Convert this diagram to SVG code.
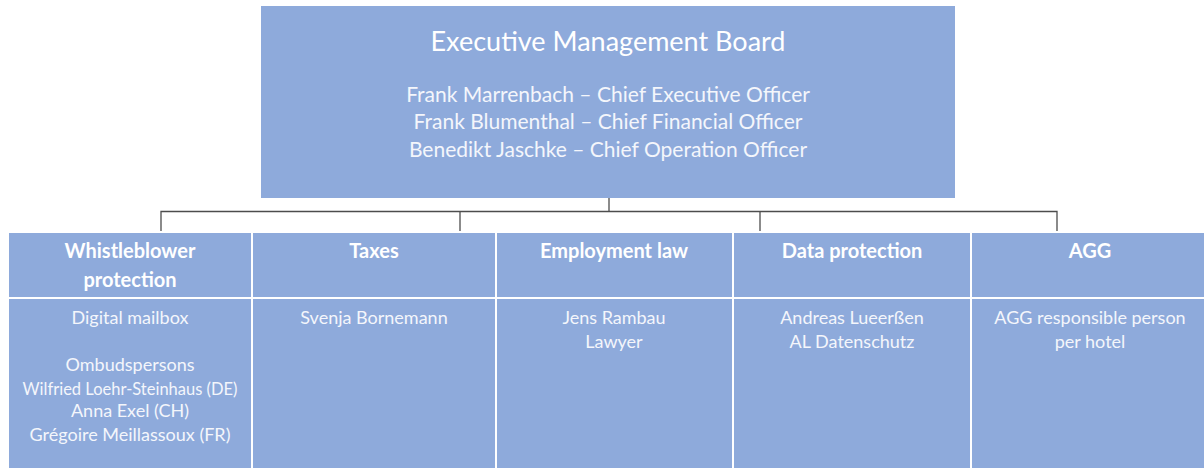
<svg xmlns="http://www.w3.org/2000/svg" width="1204" height="468" viewBox="0 0 1204 468">
  <style>
    .box { fill: #8EAADB; }
    .cell { fill: #8EAADB; stroke: #FFFFFF; stroke-width: 2; }
    .link { fill: none; stroke: #4D4D4D; stroke-width: 1.3; }
    text { font-family: Lato, "Open Sans", "Liberation Sans", sans-serif; fill: #FFFFFF; text-anchor: middle; }
    .title { font-size: 27px; }
    .lead { font-size: 21px; fill: #F4F6FB; }
    .head { font-size: 20px; font-weight: bold; }
    .body { font-size: 18px; fill: #F4F6FB; }
    .small { font-size: 16.5px; fill: #F4F6FB; }
  </style>
  <rect width="1204" height="468" fill="#FFFFFF"/>

  <!-- connectors -->
  <g id="connectors">
    <path class="link" d="M609 198 V211.5"/>
    <path class="link" d="M161 232 V211.5 H1057 V232"/>
    <path class="link" d="M460 211.5 V232"/>
    <path class="link" d="M760 211.5 V232"/>
  </g>

  <!-- board -->
  <g id="board">
    <rect class="box" x="261" y="6" width="694" height="192"/>
    <text class="title" x="608" y="51">Executive Management Board</text>
    <text class="lead" x="608" y="102">Frank Marrenbach – Chief Executive Officer</text>
    <text class="lead" x="608" y="129">Frank Blumenthal – Chief Financial Officer</text>
    <text class="lead" x="608" y="157">Benedikt Jaschke – Chief Operation Officer</text>
  </g>

  <!-- departments -->
  <g id="whistleblower">
    <rect class="cell" x="8" y="232" width="244" height="66"/>
    <rect class="cell" x="8" y="298" width="244" height="180"/>
    <text class="head" x="130" y="258">Whistleblower</text>
    <text class="head" x="130" y="287">protection</text>
    <text class="body" x="130" y="324">Digital mailbox</text>
    <text class="body" x="130" y="371">Ombudspersons</text>
    <text class="small" x="130" y="395">Wilfried Loehr-Steinhaus (DE)</text>
    <text class="body" x="130" y="417">Anna Exel (CH)</text>
    <text class="body" x="130" y="441">Grégoire Meillassoux (FR)</text>
  </g>

  <g id="taxes">
    <rect class="cell" x="252" y="232" width="244" height="66"/>
    <rect class="cell" x="252" y="298" width="244" height="180"/>
    <text class="head" x="374" y="258">Taxes</text>
    <text class="body" x="374" y="324">Svenja Bornemann</text>
  </g>

  <g id="employment">
    <rect class="cell" x="496" y="232" width="237" height="66"/>
    <rect class="cell" x="496" y="298" width="237" height="180"/>
    <text class="head" x="614" y="258">Employment law</text>
    <text class="body" x="614" y="324">Jens Rambau</text>
    <text class="body" x="614" y="348">Lawyer</text>
  </g>

  <g id="data-protection">
    <rect class="cell" x="733" y="232" width="238" height="66"/>
    <rect class="cell" x="733" y="298" width="238" height="180"/>
    <text class="head" x="852" y="258">Data protection</text>
    <text class="body" x="852" y="324">Andreas Lueerßen</text>
    <text class="body" x="852" y="348">AL Datenschutz</text>
  </g>

  <g id="agg">
    <rect class="cell" x="971" y="232" width="240" height="66"/>
    <rect class="cell" x="971" y="298" width="240" height="180"/>
    <text class="head" x="1090" y="258">AGG</text>
    <text class="body" x="1090" y="324">AGG responsible person</text>
    <text class="body" x="1090" y="348">per hotel</text>
  </g>
</svg>
